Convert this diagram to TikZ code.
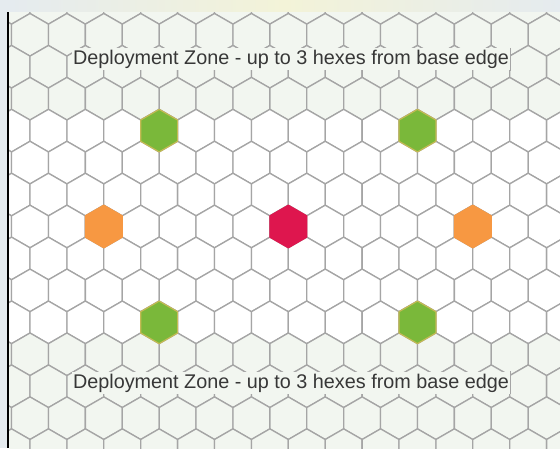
\documentclass[tikz,border=0pt]{standalone}
\usepackage{fontspec}
\setmainfont{Liberation Sans}
\usepackage{xcolor}
\usetikzlibrary{positioning}

\definecolor{gridgray}{RGB}{165,165,165}
\definecolor{zonetint}{RGB}{242,246,240}
\definecolor{bluebg}{RGB}{229,235,239}
\definecolor{paleyellow}{RGB}{243,243,216}
\definecolor{hexgreen}{RGB}{122,184,58}
\definecolor{greenrim}{RGB}{196,186,84}
\definecolor{hexorange}{RGB}{247,152,66}
\definecolor{hexred}{RGB}{222,22,78}
\definecolor{labeltext}{RGB}{55,55,55}

\begin{document}
\begin{tikzpicture}[x=1pt, y=-1pt,
    hexagon/.pic={\path[pic actions] (0,-21.3) -- (18.45,-10.65) -- (18.45,10.65) -- (0,21.3) -- (-18.45,10.65) -- (-18.45,-10.65) -- cycle;},
    cell/.style={draw=gridgray, line width=1.3pt},
    marker/.style={line width=1.2pt, line join=round},
    zonelabel/.style={fill=zonetint, inner xsep=1pt, inner ysep=2pt, text=labeltext, font=\fontsize{19.8}{22}\selectfont, anchor=base},
]
\useasboundingbox (0,0) rectangle (560,448);
\fill[bluebg] (0,0) rectangle (560,448);
\shade[left color=bluebg, right color=bluebg, middle color=paleyellow] (9,0) rectangle (560,12);

% hex board
\begin{scope}
\clip (9,12) rectangle (560,448);
\fill[zonetint] (9,12) rectangle (560,448);
\foreach \r in {-7,...,7}{
  \pgfmathsetmacro\rowy{226.5+31.95*\r}
  \pgfmathsetmacro\shift{mod(abs(\r),2)*18.45}
  \pgfmathtruncatemacro\inzone{abs(\r)>3}
  \ifnum\inzone=1 \def\cellfill{zonetint}\else\def\cellfill{white}\fi
  \foreach \c in {-1,...,15}
    \pic[cell, fill=\cellfill] at ({30+36.9*\c-\shift},\rowy) {hexagon};
}
\end{scope}
\draw[line width=2pt] (8,12) -- (8,448);

% markers
\pic[marker, fill=hexred, draw=hexred] at (288.3,226.5) {hexagon};
\pic[marker, fill=hexorange, draw=hexorange] at (103.8,226.5) {hexagon};
\pic[marker, fill=hexorange, draw=hexorange] at (472.8,226.5) {hexagon};
\pic[marker, fill=hexgreen, draw=greenrim] at (159.15,130.65) {hexagon};
\pic[marker, fill=hexgreen, draw=greenrim] at (417.45,130.65) {hexagon};
\pic[marker, fill=hexgreen, draw=greenrim] at (159.15,322.35) {hexagon};
\pic[marker, fill=hexgreen, draw=greenrim] at (417.45,322.35) {hexagon};

% zone labels
\node[zonelabel] (dztop) at (291,64.3) {Deployment Zone - up to 3 hexes from base edge};
\draw[gridgray, line width=0.6pt] (dztop.north east) -- (dztop.south east);
\node[zonelabel] (dzbottom) at (291,388) {Deployment Zone - up to 3 hexes from base edge};
\draw[gridgray, line width=0.6pt] (dzbottom.north east) -- (dzbottom.south east);
\end{tikzpicture}
\end{document}
